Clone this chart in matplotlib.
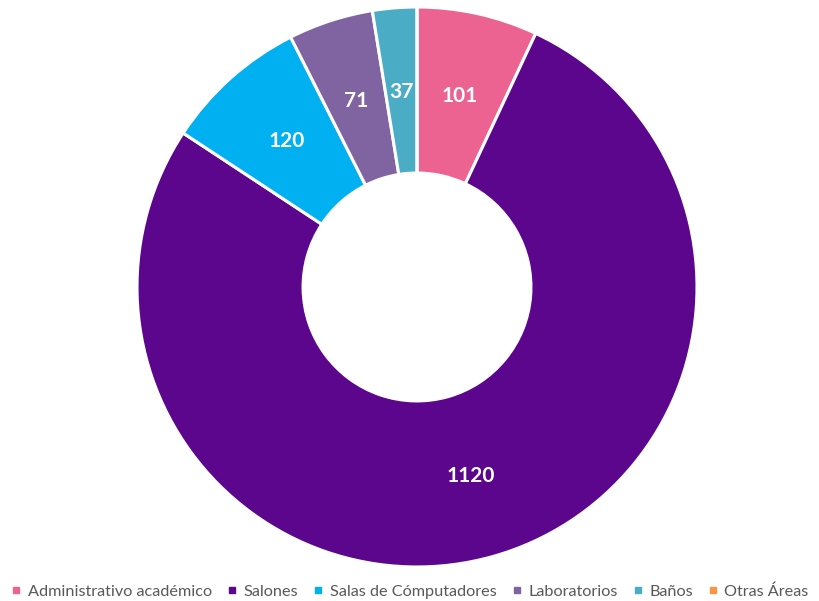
import matplotlib
matplotlib.use("Agg")
import matplotlib.pyplot as plt
from matplotlib.lines import Line2D

categories = ["Administrativo académico", "Salones", "Salas de Cómputadores",
              "Laboratorios", "Baños", "Otras Áreas"]
values = [101, 1120, 120, 71, 37, 0]
colors = ["#EC6392", "#5B068D", "#00B0F0", "#8064A2", "#4BACC6", "#F79646"]

plt.rcParams["font.family"] = ["Lato", "DejaVu Sans"]

fig = plt.figure(figsize=(8.2, 6.01), dpi=100)
ax = fig.add_axes([0.1671, 0.0566, 0.6829, 0.9318])

total = sum(values)


def fmt(pct):
    v = int(round(pct * total / 100.0))
    return str(v) if v > 0 else ""


wedges, _, autotexts = ax.pie(
    values, colors=colors, startangle=90, counterclock=False, radius=1.0,
    autopct=fmt, pctdistance=0.70,
    wedgeprops=dict(width=0.593, edgecolor="white", linewidth=2.2),
    textprops=dict(color="white", fontsize=15, fontweight="bold"),
)
ax.set_xlim(-1, 1)
ax.set_ylim(-1, 1)
ax.set_aspect("equal")
ax.axis("off")

handles = [Line2D([0], [0], marker="s", linestyle="", markersize=5,
                  markerfacecolor=c, markeredgecolor=c) for c in colors]
fig.legend(handles, categories, loc="center", bbox_to_anchor=(0.5, 0.016),
           ncol=6, frameon=False, fontsize=11.7, handlelength=0.6,
           handletextpad=0.4, columnspacing=0.95, labelcolor="#595959",
           borderpad=0.1)

fig.savefig("out.png", dpi=100)
